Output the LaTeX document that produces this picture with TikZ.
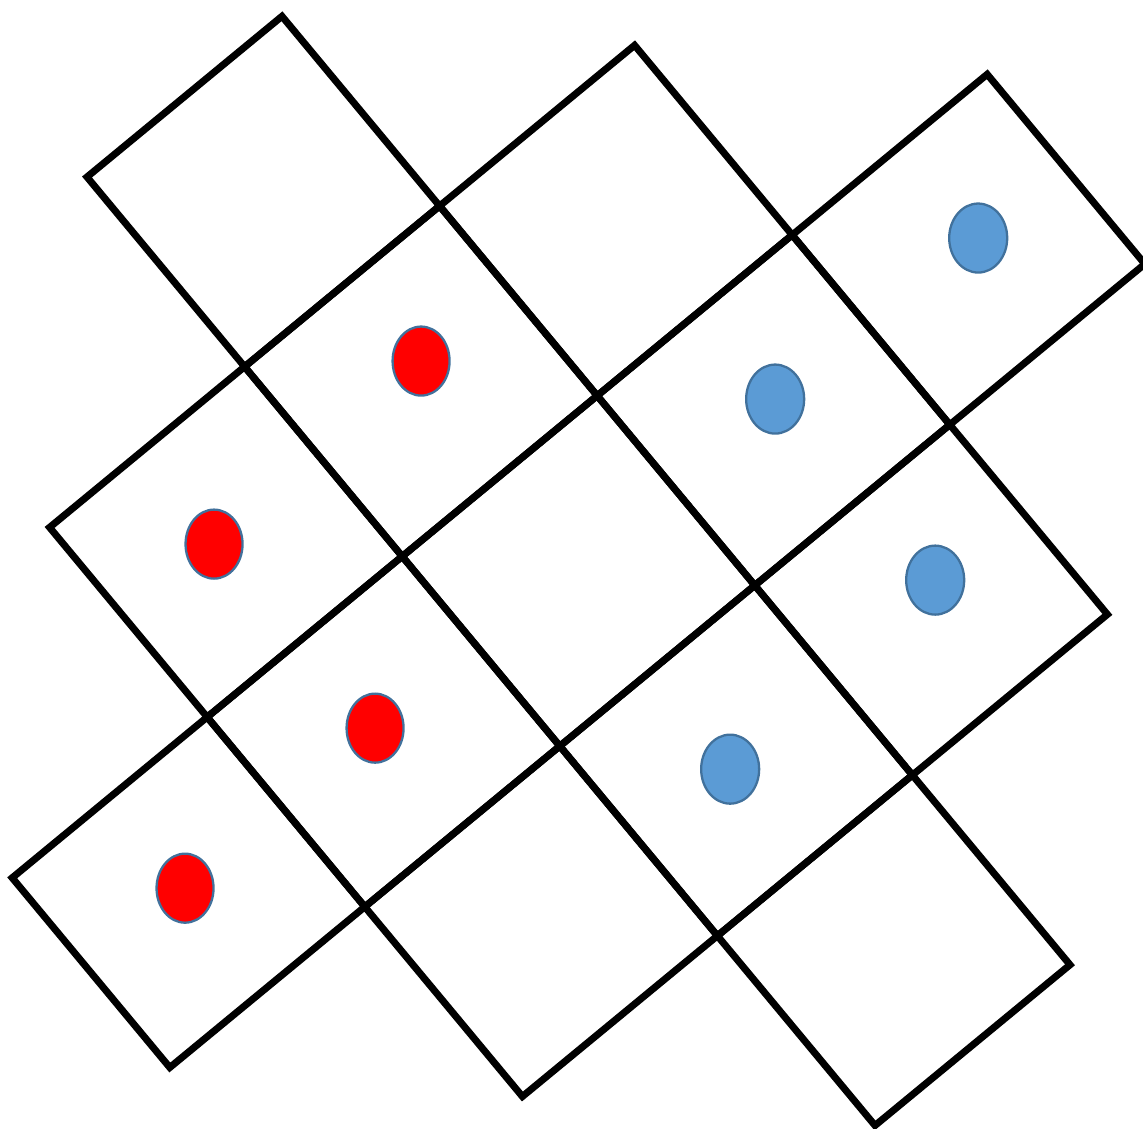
\documentclass[tikz,border=0pt]{standalone}
\usepackage{xcolor}
\usepackage{tikz}

\definecolor{dotred}{HTML}{FF0000}
\definecolor{dotblue}{HTML}{5B9BD5}
\definecolor{dotrim}{HTML}{41719C}

\begin{document}
\begin{tikzpicture}[
    cellbox/.style={draw=black, line width=4pt, line join=miter},
    reddot/.style={fill=dotred, draw=dotrim, line width=1.3pt},
    bluedot/.style={fill=dotblue, draw=dotrim, line width=1.3pt}
]
\useasboundingbox (0,0) rectangle (22.86,-22.58);
\clip (0,0) rectangle (22.86,-22.58);

% Tilted grid of square cells (lattice coordinates)
\begin{scope}[shift={(1.74,-3.54)}, x={(3.90cm,3.214cm)}, y={(3.152cm,-3.794cm)}]
  \foreach \a/\b in {0/0, -1/1, 0/1, 1/1, -2/2, -1/2, 0/2, 1/2, 2/2, -1/3, 0/3, 1/3, 0/4}
    \draw[cellbox] (\a,\b) -- ++(1,0) -- ++(0,1) -- ++(-1,0) -- cycle;
\end{scope}

% Dots (pixel coordinates)
\begin{scope}[x=0.02cm, y=-0.02cm]
  \foreach \px/\py in {421/361, 214/544, 375/728, 185/888}
    \draw[reddot] (\px,\py) ellipse [x radius=28.5, y radius=34.5];
  \foreach \px/\py in {978/238, 775/399, 935/580, 730/769}
    \draw[bluedot] (\px,\py) ellipse [x radius=29, y radius=34.5];
\end{scope}

\end{tikzpicture}
\end{document}
